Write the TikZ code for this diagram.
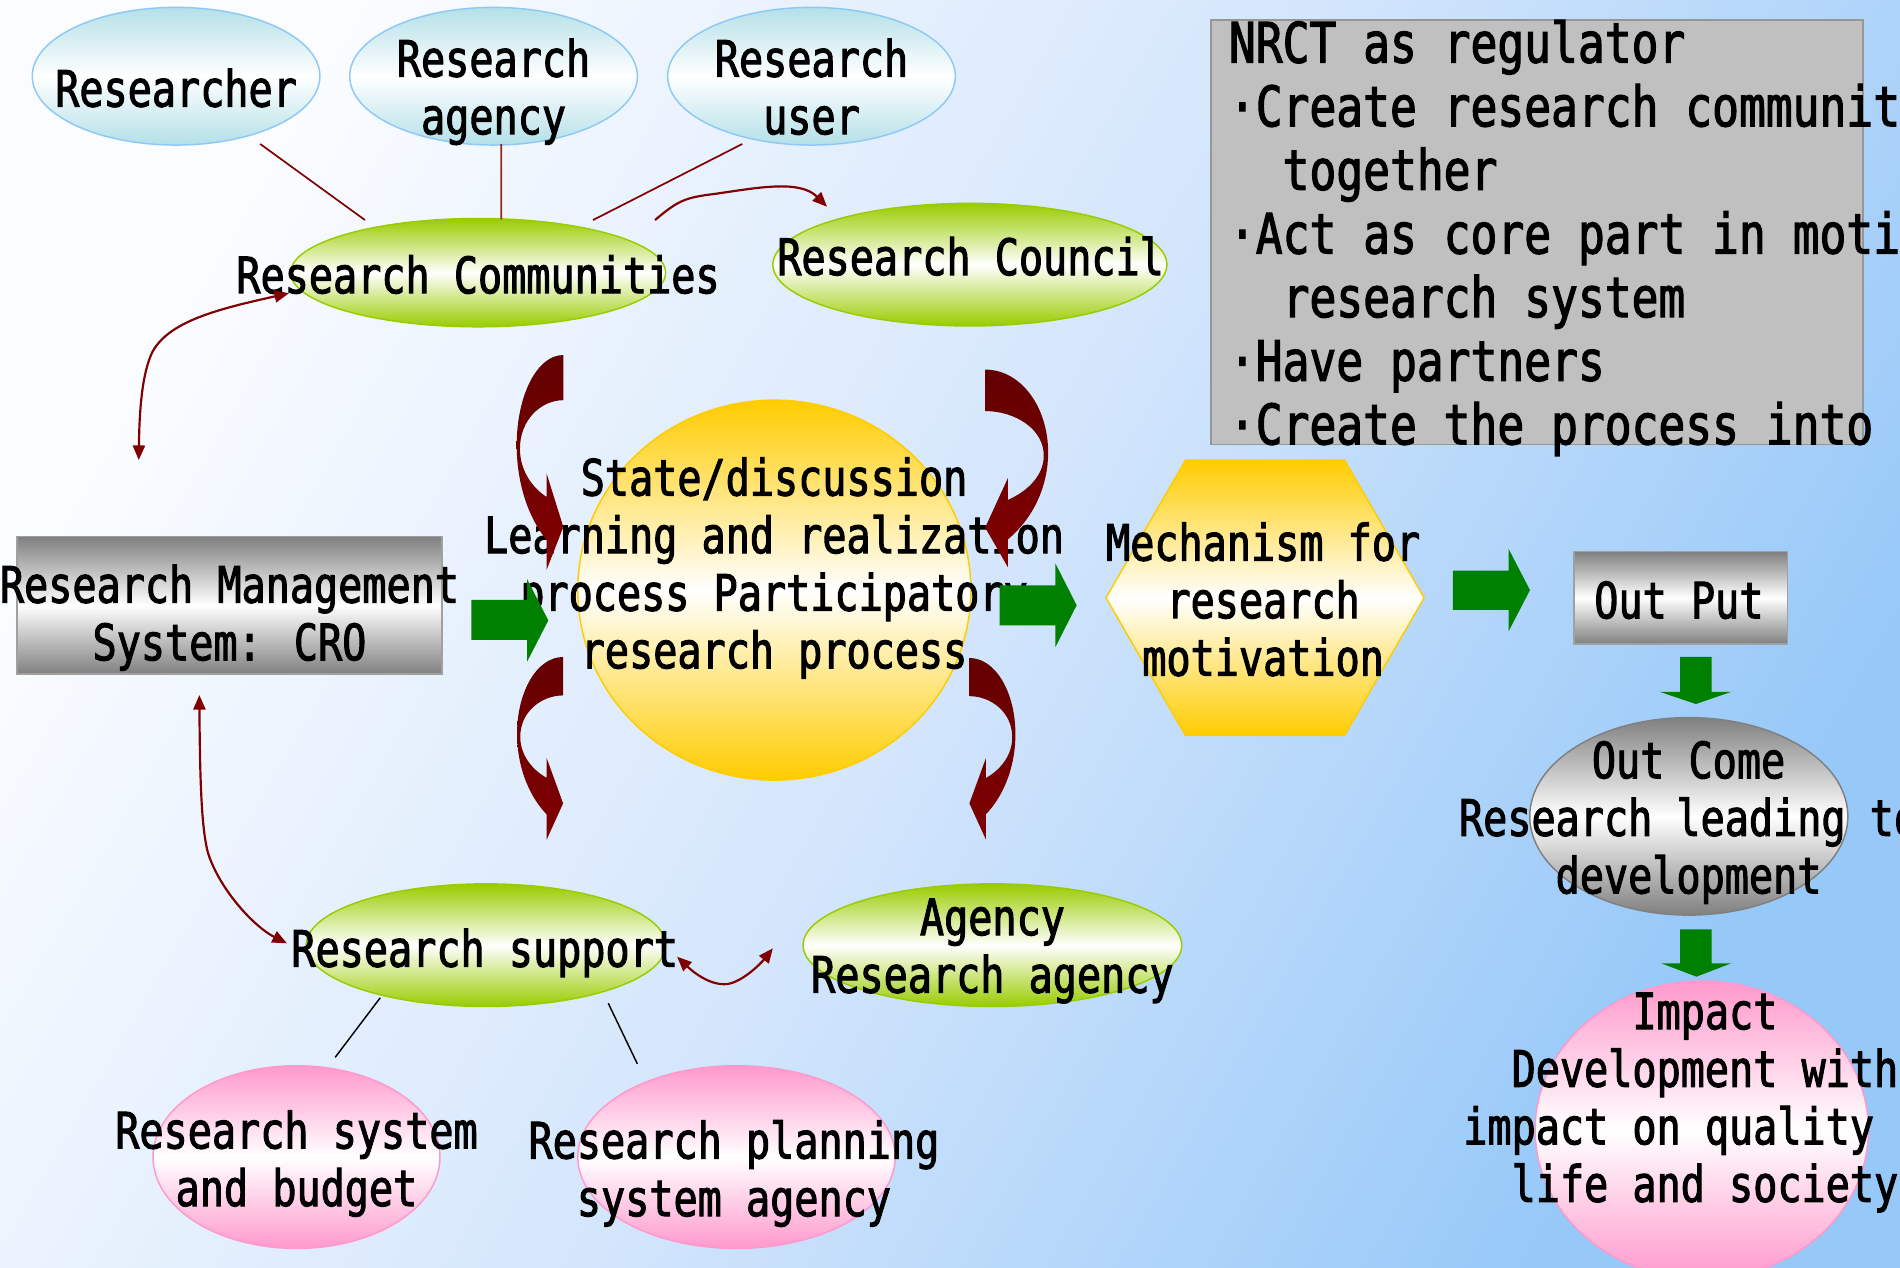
\documentclass[tikz,border=0pt]{standalone}
\usepackage{fontspec}
\usetikzlibrary{shapes.geometric,arrows.meta}
\newfontfamily\gothic{DejaVu Sans Mono}[FakeStretch=0.8,FakeBold=2]
\newcommand\mstrut{\rule[-10pt]{0pt}{42pt}}
\newcommand\nstrut{\rule[-11pt]{0pt}{47pt}}
\definecolor{bgA}{RGB}{250,252,255}
\definecolor{bgB}{RGB}{212,230,252}
\definecolor{bgC}{RGB}{150,200,248}
\definecolor{cyanc}{RGB}{180,224,232}
\definecolor{cyanb}{RGB}{142,200,245}
\definecolor{grnc}{RGB}{153,204,0}
\definecolor{goldc}{RGB}{255,204,0}
\definecolor{pinkc}{RGB}{255,153,204}
\definecolor{grayc}{RGB}{128,128,128}
\definecolor{grayb}{RGB}{160,160,160}
\definecolor{nrctc}{RGB}{192,192,192}
\definecolor{nrctb}{RGB}{150,150,150}
\definecolor{dred}{RGB}{128,0,0}
\definecolor{ddred}{RGB}{100,0,0}
\definecolor{agreen}{RGB}{0,128,0}
\newcommand\redarr[4]{\shade[top color=ddred, bottom color=dred, shift={(#1,#2)}, xscale=#3, yscale=#4]
  (1,0) -- (1,0.21) .. controls (0.53,0.21) and (0.06,0.30) .. (0.07,0.44)
  .. controls (0.075,0.535) and (0.32,0.615) .. (0.64,0.66) -- (0.64,0.55) -- (1,0.80)
  -- (0.64,1) -- (0.64,0.86) .. controls (0.21,0.745) and (0,0.58) .. (0,0.42)
  .. controls (0,0.19) and (0.43,0) .. (1,0) -- cycle;}
\tikzset{
  txt/.style={font=\gothic\fontsize{41.4}{47.5}\selectfont, align=center, inner sep=0pt,
    execute at begin node=\mstrut, execute at end node=\mstrut},
  ntxt/.style={font=\gothic\fontsize{46}{52.5}\selectfont, align=left, inner sep=0pt,
    execute at begin node=\nstrut, execute at end node=\nstrut},
  ellbase/.style={ellipse, inner sep=0pt, line width=1.2pt},
  cyanell/.style={ellbase, draw=cyanb, top color=cyanc, bottom color=cyanc, middle color=white},
  grnell/.style={ellbase, draw=grnc, top color=grnc, bottom color=grnc, middle color=white},
  pinkell/.style={ellbase, draw=pinkc, top color=pinkc, bottom color=pinkc, middle color=white},
  goldell/.style={ellbase, draw=goldc, top color=goldc, bottom color=goldc, middle color=white},
  grayell/.style={ellbase, draw=grayc, top color=grayc, bottom color=grayc, middle color=white},
  graybox/.style={rectangle, inner sep=0pt, line width=1.2pt, draw=grayb, top color=grayc, bottom color=grayc, middle color=white},
  topline/.style={draw=dred, line width=1.4pt},
  blkline/.style={draw=black, line width=1.2pt},
  darr/.style={draw=dred, line width=1.8pt},
  tip/.tip={Triangle[length=12pt,width=10pt]},
  garrow/.style={fill=agreen},
}
\begin{document}
\begin{tikzpicture}[x=1pt,y=-1pt]
\useasboundingbox (0,0) rectangle (1568,1046);
\clip (0,0) rectangle (1568,1046);
\shade[top color=bgA, bottom color=bgC, middle color=bgB, shading angle=60] (0,0) rectangle (1568,1046);

% top ellipses
\node[cyanell, minimum width=237.4pt, minimum height=113.6pt] (res) at (145.3,62.9) {};
\node[cyanell, minimum width=237.4pt, minimum height=113.6pt] (rag) at (407.3,62.9) {};
\node[cyanell, minimum width=237.4pt, minimum height=113.6pt] (usr) at (669.7,62.9) {};
\node[txt] (res-t) at (145.3,77) {Researcher};
\node[txt] (rag-t) at (407.3,76.3) {Research\\agency};
\node[txt] (usr-t) at (669.7,76.3) {Research\\user};

% research communities and council
\node[grnell, minimum width=309.4pt, minimum height=89.4pt] (rc) at (394.6,225) {};
\node[grnell, minimum width=325.2pt, minimum height=101.2pt] (council) at (800.4,218.4) {};

\draw[topline] ([shift={(69.4,55.9)}]res.center) -- ([shift={(-93.4,-43.4)}]rc.center);
\draw[topline, draw={rgb,255:red,150;green,40;blue,20}] ([shift={(6.4,55.9)}]rag.center) -- ([shift={(19.1,-44)}]rc.center);
\draw[topline] ([shift={(-57.1,55.9)}]usr.center) -- ([shift={(94.8,-43.4)}]rc.center);

\node[txt] (rc-t) at (394.5,231) {Research Communities};
\node[txt] (council-t) at (801,216) {Research Council};

% NRCT box
\node[rectangle, inner sep=0pt, fill=nrctc, draw=nrctb, line width=1.2pt, minimum width=537.9pt, minimum height=350.5pt] (nrct) at (1268.5,191.75) {};
\node[ntxt, anchor=north west] (nrct-t) at (1014,16.3) {NRCT as regulator\\
·Create research communit\\
\hphantom{··}together\\
·Act as core part in moti\\
\hphantom{··}research system\\
·Have partners\\
·Create the process into};

% middle row
\node[graybox, minimum width=351pt, minimum height=113.3pt] (rms) at (189.4,499.5) {};
\node[txt] (rms-t) at (189.4,510.4) {Research Management\\System: CRO};

\node[goldell, minimum width=324.4pt, minimum height=313.6pt] (state) at (639,487) {};
\node[txt] (state-t) at (638.8,469.5) {State/discussion\\Learning and realization\\process Participatory\\research process};

\node[regular polygon, regular polygon sides=6, minimum size=262.5pt, inner sep=0pt, line width=1.2pt, draw=goldc, top color=goldc, bottom color=goldc, middle color=white] (mech) at (1044,493.3) {};
\node[txt] (mech-t) at (1042.4,499.4) {Mechanism for\\research\\motivation};

\node[graybox, minimum width=176pt, minimum height=76.2pt] (outp) at (1387,493.4) {};
\node[txt] (outp-t) at (1385.5,499.3) {Out Put};

\node[grayell, minimum width=262.5pt, minimum height=163pt] (outc) at (1393.7,673.7) {};
\node[txt] (outc-t) at (1393.5,679.4) {Out Come\\Research leading to\\development};

\node[pinkell, minimum width=275pt, minimum height=246pt] (impact) at (1404.4,932.6) {};
\node[txt] (impact-t) at (1407,910.5) {Impact\\Development with\\impact on quality of\\life and society};

% bottom row
\node[grnell, minimum width=296.8pt, minimum height=101.2pt] (rs) at (401,780) {};
\node[grnell, minimum width=312.5pt, minimum height=101.2pt] (agn) at (819,780) {};
\node[pinkell, minimum width=236.8pt, minimum height=150.8pt] (rsb) at (244.7,954.9) {};
\node[pinkell, minimum width=262pt, minimum height=150.8pt] (rps) at (607.8,954.9) {};

\draw[blkline] ([shift={(-87.2,43.4)}]rs.center) -- ([shift={(31.9,-82.3)}]rsb.center);
\draw[blkline] ([shift={(101,48)}]rs.center) -- ([shift={(-81.8,-76.9)}]rps.center);

\node[txt] (rs-t) at (400,786.8) {Research support};
\node[txt] (agn-t) at (819,785.4) {Agency\\Research agency};
\node[txt] (rsb-t) at (244.7,960.8) {Research system\\and budget};
\node[txt] (rps-t) at (605.7,969) {Research planning\\system agency};

% thin red connectors
\draw[darr, -tip] ([shift={(146,-43.4)}]rc.center) .. controls (560,165) and (566,163) .. (590,160) .. controls (625,155) and (660,148) .. ([shift={(-117.9,-47.8)}]council.center);
\draw[darr, tip-tip] ([shift={(-156.1,17)}]rc.center) .. controls (180,255) and (140,265) .. (126,290) .. controls (117,308) and (115,340) .. ([shift={(-74.9,-119.9)}]rms.center);
\draw[darr, tip-tip] ([shift={(-24.9,74.1)}]rms.center) .. controls (165,640) and (166,685) .. (172,705) .. controls (182,735) and (210,765) .. ([shift={(-164.2,-1.5)}]rs.center);
\draw[darr, tip-tip] ([shift={(157.8,9.5)}]rs.center) .. controls (575,805) and (590,815) .. (603,811.5) .. controls (615,808) and (628,795) .. ([shift={(-181.2,2.6)}]agn.center);

% green block arrows
\fill[garrow] (389,495) -- (435,495) -- (435,478) -- (452.5,512) -- (435,546) -- (435,528) -- (389,528) -- cycle;
\fill[garrow] (825,483) -- (871,483) -- (871,465) -- (888.5,499.5) -- (871,534) -- (871,516) -- (825,516) -- cycle;
\fill[garrow] (1199,471) -- (1245,471) -- (1245,453) -- (1262.6,487) -- (1245,521) -- (1245,503.4) -- (1199,503.4) -- cycle;
\fill[garrow] (1386.5,542) -- (1412.6,542) -- (1412.6,571) -- (1428.6,571) -- (1399.5,581) -- (1370,571) -- (1386.5,571) -- cycle;
\fill[garrow] (1386.5,767) -- (1412.6,767) -- (1412.6,795) -- (1428.6,795) -- (1400,806) -- (1371,795) -- (1386.5,795) -- cycle;

% curved red block arrows
\redarr{426.4}{293}{38.5}{177.4}
\redarr{426.7}{542.2}{38}{151}
\redarr{865}{305}{-52}{163}
\redarr{838}{543}{-38}{150}
\end{tikzpicture}
\end{document}
